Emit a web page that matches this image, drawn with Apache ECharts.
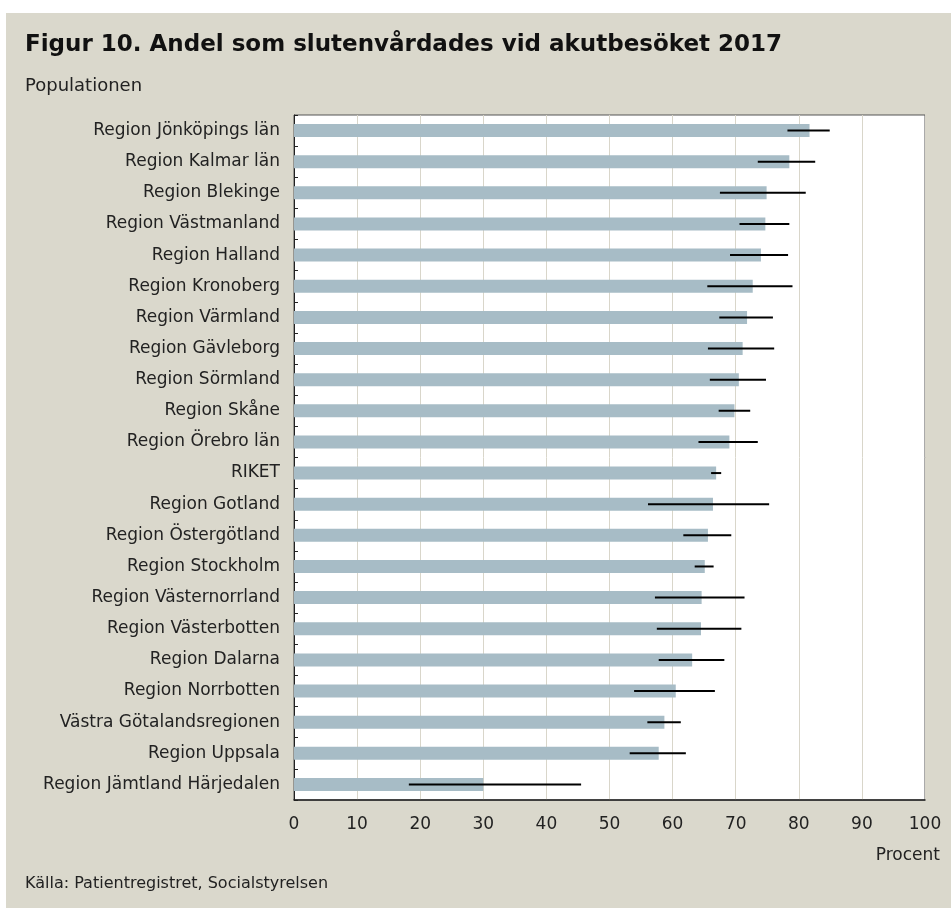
<!DOCTYPE html>
<html>
<head>
<meta charset="utf-8">
<script src="https://cdn.jsdelivr.net/npm/echarts@6/dist/echarts.min.js"></script>
<style>
  html, body { margin: 0; padding: 0; background: #fff; }
  #chart { width: 951px; height: 914px; }
</style>
</head>
<body>
<div id="chart"></div>
<script>
var regions = [
    'Region Jönköpings län', 'Region Kalmar län', 'Region Blekinge', 'Region Västmanland',
    'Region Halland', 'Region Kronoberg', 'Region Värmland', 'Region Gävleborg',
    'Region Sörmland', 'Region Skåne', 'Region Örebro län', 'RIKET',
    'Region Gotland', 'Region Östergötland', 'Region Stockholm', 'Region Västernorrland',
    'Region Västerbotten', 'Region Dalarna', 'Region Norrbotten', 'Västra Götalandsregionen',
    'Region Uppsala', 'Region Jämtland Härjedalen'
];
var andel = [81.7, 78.5, 74.9, 74.7, 74.0, 72.7, 71.8, 71.1, 70.5, 69.8, 69.0, 66.9,
             66.4, 65.6, 65.1, 64.6, 64.5, 63.1, 60.5, 58.7, 57.8, 30.0];
var lower = [78.2, 73.5, 67.5, 70.6, 69.1, 65.5, 67.4, 65.6, 65.9, 67.3, 64.1, 66.1,
             56.1, 61.7, 63.5, 57.2, 57.5, 57.8, 53.9, 56.0, 53.2, 18.2];
var upper = [84.9, 82.6, 81.1, 78.5, 78.3, 79.0, 75.9, 76.1, 74.8, 72.3, 73.5, 67.7,
             75.3, 69.3, 66.5, 71.4, 70.9, 68.2, 66.7, 61.3, 62.1, 45.5];
var xTicks = [0, 100, 10];

var errData = regions.map(function (r, i) { return [i, lower[i], upper[i]]; });

var chartDom = document.getElementById('chart');
var myChart = echarts.init(chartDom);
var font = 'DejaVu Sans';

var option = {
    animation: false,
    backgroundColor: '#fff',
    textStyle: { fontFamily: font },
    graphic: [
        { type: 'rect', z: -100, shape: { x: 6, y: 13, width: 945, height: 895 }, style: { fill: '#dad8cc' } },
        { type: 'text', left: 25, top: 34, style: { text: 'Figur 10. Andel som slutenvårdades vid akutbesöket 2017', font: 'bold 23px "DejaVu Sans"', fill: '#111' } },
        { type: 'text', left: 25, top: 77, style: { text: 'Populationen', font: '18px "DejaVu Sans"', fill: '#222' } },
        { type: 'text', right: 11, top: 847, style: { text: 'Procent', font: '17px "DejaVu Sans"', fill: '#222' } },
        { type: 'text', left: 25, top: 876, style: { text: 'Källa: Patientregistret, Socialstyrelsen', font: '16px "DejaVu Sans"', fill: '#222' } }
    ],
    grid: {
        left: 294, right: 26, top: 115, bottom: 114,
        show: true, backgroundColor: '#fff', borderColor: '#555', borderWidth: 1
    },
    xAxis: {
        type: 'value', min: xTicks[0], max: xTicks[1], interval: xTicks[2],
        axisLine: { show: true, lineStyle: { color: '#222', width: 1.5 } },
        axisTick: { show: false },
        axisLabel: { fontSize: 17, color: '#222', margin: 16 },
        splitLine: { lineStyle: { color: '#d9d6ca', width: 1 } }
    },
    yAxis: {
        type: 'category', inverse: true, data: regions,
        axisLine: { show: true, lineStyle: { color: '#222', width: 1 } },
        axisTick: { show: true, inside: true, length: 4, lineStyle: { color: '#222' } },
        axisLabel: { fontSize: 17, color: '#222', margin: 14 }
    },
    series: [
        {
            type: 'bar', data: andel, barWidth: 13,
            itemStyle: { color: '#a7bcc6' }
        },
        {
            type: 'custom', data: errData,
            renderItem: function (params, api) {
                var a = api.coord([api.value(1), api.value(0)]);
                var b = api.coord([api.value(2), api.value(0)]);
                return {
                    type: 'line',
                    shape: { x1: a[0], y1: a[1], x2: b[0], y2: b[1] },
                    style: { stroke: '#000', lineWidth: 2 }
                };
            },
            encode: { x: [1, 2], y: 0 },
            z: 5
        }
    ]
};

myChart.setOption(option);
</script>
</body>
</html>
